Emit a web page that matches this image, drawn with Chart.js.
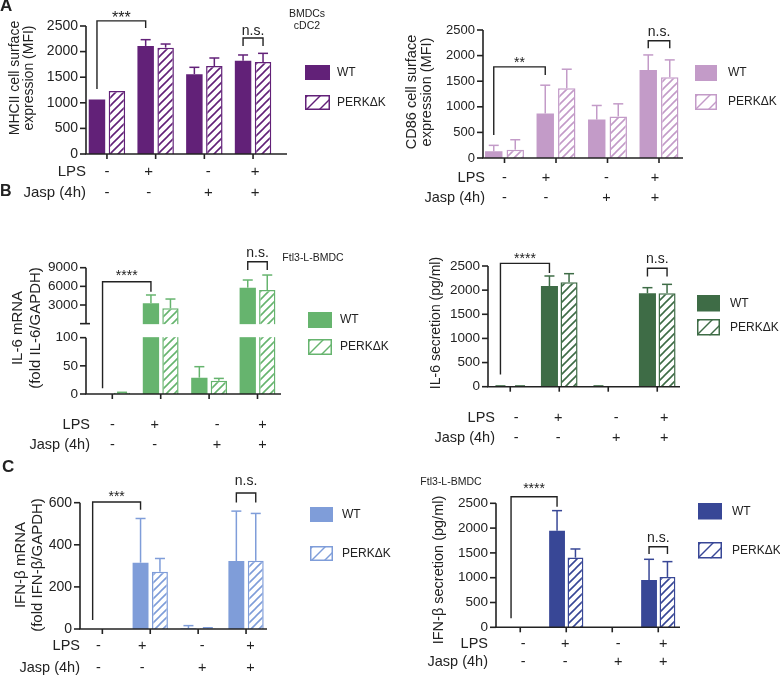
<!DOCTYPE html>
<html>
<head>
<meta charset="utf-8">
<script src="https://cdn.jsdelivr.net/npm/chart.js@4.4.0/dist/chart.umd.min.js"></script>
<style>
  html, body { margin: 0; padding: 0; background: #fff; }
  #fig { position: relative; width: 780px; height: 676px; overflow: hidden; }
  #fig canvas { position: absolute; left: 0; top: 0; }
</style>
</head>
<body>
<div id="fig"></div>
<script>
// categories and treatment table
const groups = ['ctrl', 'LPS', 'Jasp', 'LPS+Jasp'];
const lpsRow = ['-', '+', '-', '+'];
const jaspRow = ['-', '-', '+', '+'];
const seriesNames = ['WT', 'PERKΔK'];

// A: MHCII surface (MFI)
const mhcWT = [1065, 2110, 1560, 1820];
const mhcWTsd = [0, 123, 133, 114];
const mhcKO = [1230, 2077, 1719, 1797];
const mhcKOsd = [0, 71, 156, 169];
const mhcTicks = [0, 500, 1000, 1500, 2000, 2500];

// A: CD86 surface (MFI)
const cd86WT = [130, 870, 750, 1720];
const cd86WTsd = [117, 552, 276, 293];
const cd86KO = [162, 1364, 812, 1578];
const cd86KOsd = [195, 370, 246, 338];
const cd86Ticks = [0, 500, 1000, 1500, 2000, 2500];

// B: IL-6 mRNA (broken axis)
const il6mWT = [0, 3270, 29, 5790];
const il6mWTsd = [0, 1340, 19.5, 1230];
const il6mKO = [2, 2460, 23.7, 5410];
const il6mKOsd = [1, 1500, 4, 2410];
const il6mTicks = [0, 50, 100, 3000, 6000, 9000];

// B: IL-6 secretion (pg/ml)
const il6sWT = [8, 2086, 8, 1934];
const il6sWTsd = [8, 207, 8, 117];
const il6sKO = [8, 2162, 0, 1934];
const il6sKOsd = [8, 179, 0, 186];
const il6sTicks = [0, 500, 1000, 1500, 2000, 2500];

// C: IFN-b mRNA
const ifnmWT = [0, 315, 3, 323];
const ifnmWTsd = [0, 210, 13, 237];
const ifnmKO = [0, 272, 2, 324];
const ifnmKOsd = [0, 63, 4, 225];
const ifnmTicks = [0, 200, 400, 600];

// C: IFN-b secretion (pg/ml)
const ifnsWT = [0, 1949, 0, 954];
const ifnsWTsd = [0, 403, 0, 417];
const ifnsKO = [0, 1405, 0, 1015];
const ifnsKOsd = [0, 174, 0, 309];
const ifnsTicks = [0, 500, 1000, 1500, 2000, 2500];

const FONT = '"Liberation Sans", Arial, sans-serif';
const INK = '#222';
const W = 780, H = 676;

// linear scale with a gap: low part 0..low, high part 0..high
class BrokenScale extends Chart.LinearScale {
  getPixelForValue(v) {
    const b = this.options.brk;
    const h = this.bottom - this.top;
    if (v <= b.low) return this.bottom - v / b.low * b.lowFrac * h;
    return this.top + (1 - v / b.high) * b.highFrac * h;
  }
}
BrokenScale.id = 'broken';
BrokenScale.defaults = Chart.LinearScale.defaults;
Chart.register(BrokenScale);

function hatch(color) {
  const s = 8;
  const c = document.createElement('canvas');
  c.width = c.height = s;
  const g = c.getContext('2d');
  g.fillStyle = '#fff';
  g.fillRect(0, 0, s, s);
  g.strokeStyle = color;
  g.lineWidth = 1.6;
  g.beginPath();
  g.moveTo(-1, s + 1); g.lineTo(s + 1, -1);
  g.moveTo(-1, 1); g.lineTo(1, -1);
  g.moveTo(s - 1, s + 1); g.lineTo(s + 1, s - 1);
  g.stroke();
  return g.createPattern(c, 'repeat');
}

function drawPanel(chart, p) {
  const ctx = chart.ctx, xs = chart.scales.x, ys = chart.scales.y;
  const seg = (x1, y1, x2, y2) => { ctx.beginPath(); ctx.moveTo(x1, y1); ctx.lineTo(x2, y2); ctx.stroke(); };
  const label = (t, x, y, size, align, weight) => {
    ctx.font = (weight || 'normal') + ' ' + size + 'px ' + FONT;
    ctx.textAlign = align || 'center';
    ctx.textBaseline = 'middle';
    ctx.fillText(t, x, y);
  };
  ctx.save();
  const ax = p.axisX, base = ys.getPixelForValue(0);
  let upBottom = 0;

  // white gap of the broken axis
  if (p.brk) {
    upBottom = ys.top + p.brk.highFrac * (ys.bottom - ys.top);
    const lowTop = ys.getPixelForValue(p.brk.low);
    ctx.fillStyle = '#fff';
    ctx.fillRect(ax + 1, upBottom + 0.5, p.axisEnd - ax, lowTop - upBottom - 1);
  }

  // error bars (upper only)
  ctx.strokeStyle = p.color;
  ctx.lineWidth = 1.5;
  [[p.wt, p.wtSd], [p.ko, p.koSd]].forEach(([vals, sds], d) => {
    chart.getDatasetMeta(d).data.forEach((bar, i) => {
      if (!sds[i]) return;
      const y0 = ys.getPixelForValue(vals[i]);
      const y1 = ys.getPixelForValue(vals[i] + sds[i]);
      seg(bar.x, y0, bar.x, y1);
      seg(bar.x - 5, y1, bar.x + 5, y1);
    });
  });

  // axes
  ctx.strokeStyle = INK;
  ctx.fillStyle = INK;
  ctx.lineWidth = 1.6;
  if (p.brk) {
    seg(ax, ys.getPixelForValue(p.brk.high), ax, upBottom);
    seg(ax, ys.getPixelForValue(p.brk.low), ax, base);
    seg(ax - 6, upBottom, ax + 4, upBottom);
  } else {
    seg(ax, ys.getPixelForValue(p.yMax), ax, base);
  }
  seg(ax - 0.8, base, p.axisEnd, base);
  groups.forEach((g, i) => {
    const gx = xs.getPixelForValue(i);
    seg(gx, base, gx, base + 5);
  });
  p.ticks.forEach(v => {
    const y = ys.getPixelForValue(v);
    seg(ax - 6, y, ax, y);
    label(String(v), ax - 8, y, p.tickFont, 'right');
  });

  // y title
  p.title.forEach((t, k) => {
    ctx.save();
    ctx.translate(p.titleX[k], p.titleY);
    ctx.rotate(-Math.PI / 2);
    label(t, 0, 0, p.titleFont);
    ctx.restore();
  });

  // treatment rows
  [['LPS', lpsRow], ['Jasp (4h)', jaspRow]].forEach(([name, row], r) => {
    const y = p.rows.y[r];
    label(name, p.rows.labelX, y, p.rows.font, 'right');
    row.forEach((s, i) => label(s, xs.getPixelForValue(i) + p.rows.dx[i], y, p.rows.font));
  });

  // significance brackets
  ctx.lineWidth = 1.4;
  p.brackets.forEach(b => {
    const xa = chart.getDatasetMeta(b.a[1]).data[b.a[0]].x;
    const xb = chart.getDatasetMeta(b.b[1]).data[b.b[0]].x;
    const y = ys.getPixelForValue(b.y);
    ctx.beginPath();
    ctx.moveTo(xa, ys.getPixelForValue(b.ya));
    ctx.lineTo(xa, y);
    ctx.lineTo(xb, y);
    ctx.lineTo(xb, ys.getPixelForValue(b.yb));
    ctx.stroke();
    const size = b.f || 14;
    const star = b.t.indexOf('*') >= 0;
    ctx.font = size + 'px ' + FONT;
    ctx.textAlign = 'center';
    ctx.textBaseline = 'alphabetic';
    ctx.fillText(b.t, (xa + xb) / 2, y - b.dy + (star ? 0.57 : 0.26) * size);
  });

  // legend
  const L = p.legend, lx = L.x, wy = L.y[0], ky = L.y[1];
  ctx.fillStyle = p.color;
  ctx.fillRect(lx, wy, L.w, L.h);
  ctx.fillStyle = '#fff';
  ctx.fillRect(lx, ky, L.w, L.h);
  ctx.save();
  ctx.beginPath();
  ctx.rect(lx, ky, L.w, L.h);
  ctx.clip();
  ctx.strokeStyle = p.color;
  ctx.lineWidth = 1.4;
  for (let k = 3 - L.h; k < L.w; k += 13) seg(lx + k, ky + L.h, lx + k + L.h, ky);
  ctx.restore();
  ctx.strokeStyle = p.color;
  ctx.lineWidth = 1.5;
  ctx.strokeRect(lx + 0.75, ky + 0.75, L.w - 1.5, L.h - 1.5);
  ctx.fillStyle = INK;
  label(seriesNames[0], L.tx, wy + L.h / 2, L.font, 'left');
  label(seriesNames[1], L.tx, ky + L.h / 2, L.font, 'left');

  // notes and panel letters
  (p.notes || []).forEach(n => label(n.t, n.x, n.y, n.f, n.align || 'center', n.w));
  ctx.restore();
}

const panels = [
  {
    color: '#622178',
    wt: mhcWT, wtSd: mhcWTsd, ko: mhcKO, koSd: mhcKOsd,
    yMax: 2500, ticks: mhcTicks, tickFont: 14,
    plot: [82.6, 26, 277.4, 154], axisX: 86, axisEnd: 287, cp: 0.82, bp: 0.825,
    title: ['MHCII cell surface', 'expression (MFI)'], titleX: [15, 29], titleY: 78, titleFont: 14,
    rows: { y: [172, 193], labelX: 86, font: 15, dx: [0, -7, 4, 2] },
    legend: { x: 305, y: [65, 95], w: 25, h: 15, tx: 337, font: 12 },
    brackets: [
      { a: [0, 0], b: [1, 0], y: 2600, ya: 1270, yb: 2460, t: '***', dy: 7, f: 16 },
      { a: [3, 0], b: [3, 1], y: 2266, ya: 2109, yb: 2109, t: 'n.s.', dy: 7 }
    ],
    notes: [
      { t: 'BMDCs', x: 307, y: 14, f: 10.5 },
      { t: 'cDC2', x: 307, y: 26, f: 10.5 },
      { t: 'A', x: 0, y: 6, f: 17, align: 'left', w: 'bold' },
      { t: 'B', x: 0, y: 192, f: 16, align: 'left', w: 'bold' }
    ]
  },
  {
    color: '#c39bc8',
    wt: cd86WT, wtSd: cd86WTsd, ko: cd86KO, koSd: cd86KOsd,
    yMax: 2500, ticks: cd86Ticks, tickFont: 13,
    plot: [478.75, 30, 684.75, 158], axisX: 483, axisEnd: 683, cp: 0.835, bp: 0.81,
    title: ['CD86 cell surface', 'expression (MFI)'], titleX: [412, 427], titleY: 92, titleFont: 14.5,
    rows: { y: [178, 198], labelX: 485, font: 14.5, dx: [0, -10, -1, -4] },
    legend: { x: 695, y: [65, 94], w: 22, h: 16, tx: 728, font: 12 },
    brackets: [
      { a: [0, 0], b: [1, 0], y: 1780, ya: 449, yb: 1621, t: '**', dy: 8 },
      { a: [3, 0], b: [3, 1], y: 2290, ya: 2142, yb: 2142, t: 'n.s.', dy: 8.4 }
    ]
  },
  {
    color: '#66b46e',
    wt: il6mWT, wtSd: il6mWTsd, ko: il6mKO, koSd: il6mKOsd,
    yMax: 9000, ticks: il6mTicks, tickFont: 13.5,
    brk: { low: 100, high: 9000, lowFrac: 0.446, highFrac: 0.443 },
    plot: [88.1, 267.7, 281.7, 394], axisX: 86, axisEnd: 281, cp: 0.806, bp: 0.836,
    title: ['IL-6 mRNA', '(fold IL-6/GAPDH)'], titleX: [18, 36], titleY: 328, titleFont: 15,
    rows: { y: [425, 445], labelX: 90, font: 14.5, dx: [0, -6, 8, 5] },
    legend: { x: 308, y: [312, 339], w: 24, h: 16, tx: 340, font: 12 },
    brackets: [
      { a: [0, 0], b: [1, 0], y: 6750, ya: 10, yb: 5143, t: '****', dy: 10 },
      { a: [3, 0], b: [3, 1], y: 9964, ya: 8630, yb: 8630, t: 'n.s.', dy: 8.4 }
    ],
    notes: [{ t: 'Ftl3-L-BMDC', x: 313, y: 258, f: 10.5 }]
  },
  {
    color: '#3e6c46',
    wt: il6sWT, wtSd: il6sWTsd, ko: il6sKO, koSd: il6sKOsd,
    yMax: 2500, ticks: il6sTicks, tickFont: 13.5,
    plot: [485.75, 266, 681.75, 386.7], axisX: 488, axisEnd: 680, cp: 0.8, bp: 0.87,
    title: ['IL-6 secretion (pg/ml)'], titleX: [436], titleY: 323, titleFont: 14,
    rows: { y: [418, 438], labelX: 495, font: 14.5, dx: [6, -1, 8, 7] },
    legend: { x: 697, y: [295, 319], w: 23, h: 16.5, tx: 730, font: 12 },
    brackets: [
      { a: [0, 0], b: [1, 0], y: 2555, ya: 255, yb: 2355, t: '****', dy: 8 },
      { a: [3, 0], b: [3, 1], y: 2452, ya: 2280, yb: 2280, t: 'n.s.', dy: 9 }
    ]
  },
  {
    color: '#7f9dd9',
    wt: ifnmWT, wtSd: ifnmWTsd, ko: ifnmKO, koSd: ifnmKOsd,
    yMax: 600, ticks: ifnmTicks, tickFont: 14,
    plot: [78.4, 502.7, 270, 629], axisX: 80, axisEnd: 267, cp: 0.81, bp: 0.82,
    title: ['IFN-β mRNA', '(fold IFN-β/GAPDH)'], titleX: [21, 38], titleY: 565, titleFont: 15,
    rows: { y: [646, 668], labelX: 80, font: 14.5, dx: [-4, -8, 4, 4.5] },
    legend: { x: 310, y: [507, 546], w: 23, h: 15, tx: 342, font: 12 },
    brackets: [
      { a: [0, 0], b: [1, 0], y: 603, ya: 43, yb: 567, t: '***', dy: 9 },
      { a: [3, 0], b: [3, 1], y: 646, ya: 601, yb: 601, t: 'n.s.', dy: 11.6 }
    ],
    notes: [{ t: 'C', x: 2, y: 467, f: 17, align: 'left', w: 'bold' }]
  },
  {
    color: '#384796',
    wt: ifnsWT, wtSd: ifnsWTsd, ko: ifnsKO, koSd: ifnsKOsd,
    yMax: 2500, ticks: ifnsTicks, tickFont: 13.5,
    plot: [497.25, 503.3, 681.25, 627.3], axisX: 496, axisEnd: 680, cp: 0.8, bp: 0.86,
    title: ['IFN-β secretion (pg/ml)'], titleX: [439], titleY: 570, titleFont: 14.5,
    rows: { y: [644, 662], labelX: 488, font: 14.5, dx: [3, -1, 6, 5] },
    legend: { x: 698, y: [503, 542], w: 24, h: 16.5, tx: 732, font: 12 },
    brackets: [
      { a: [0, 0], b: [1, 0], y: 2633, ya: 181, yb: 2431, t: '****', dy: 11.7 },
      { a: [3, 0], b: [3, 1], y: 1625, ya: 1478, yb: 1478, t: 'n.s.', dy: 8.4 }
    ],
    notes: [{ t: 'Ftl3-L-BMDC', x: 451, y: 482, f: 10.5 }]
  }
];

const fig = document.getElementById('fig');

// every panel is a full-size transparent layer, so page coordinates apply directly
function makeChart(p) {
  const cv = document.createElement('canvas');
  cv.width = W;
  cv.height = H;
  fig.appendChild(cv);
  const [l, t, r, b] = p.plot;
  return new Chart(cv, {
    type: 'bar',
    data: {
      labels: groups,
      datasets: [
        { label: seriesNames[0], data: p.wt, backgroundColor: p.color, borderWidth: 0 },
        { label: seriesNames[1], data: p.ko, backgroundColor: hatch(p.color), borderColor: p.color, borderWidth: 1.5 }
      ]
    },
    options: {
      responsive: false,
      animation: false,
      devicePixelRatio: 1,
      layout: { padding: { left: l, top: t, right: W - r, bottom: H - b } },
      datasets: { bar: { categoryPercentage: p.cp, barPercentage: p.bp } },
      scales: {
        x: { display: false },
        y: { display: false, type: p.brk ? 'broken' : 'linear', min: 0, max: p.yMax, brk: p.brk }
      },
      plugins: { legend: { display: false }, tooltip: { enabled: false } }
    },
    plugins: [{ id: 'panel', afterDatasetsDraw: c => drawPanel(c, p) }]
  });
}

panels.forEach(makeChart);
</script>
</body>
</html>
